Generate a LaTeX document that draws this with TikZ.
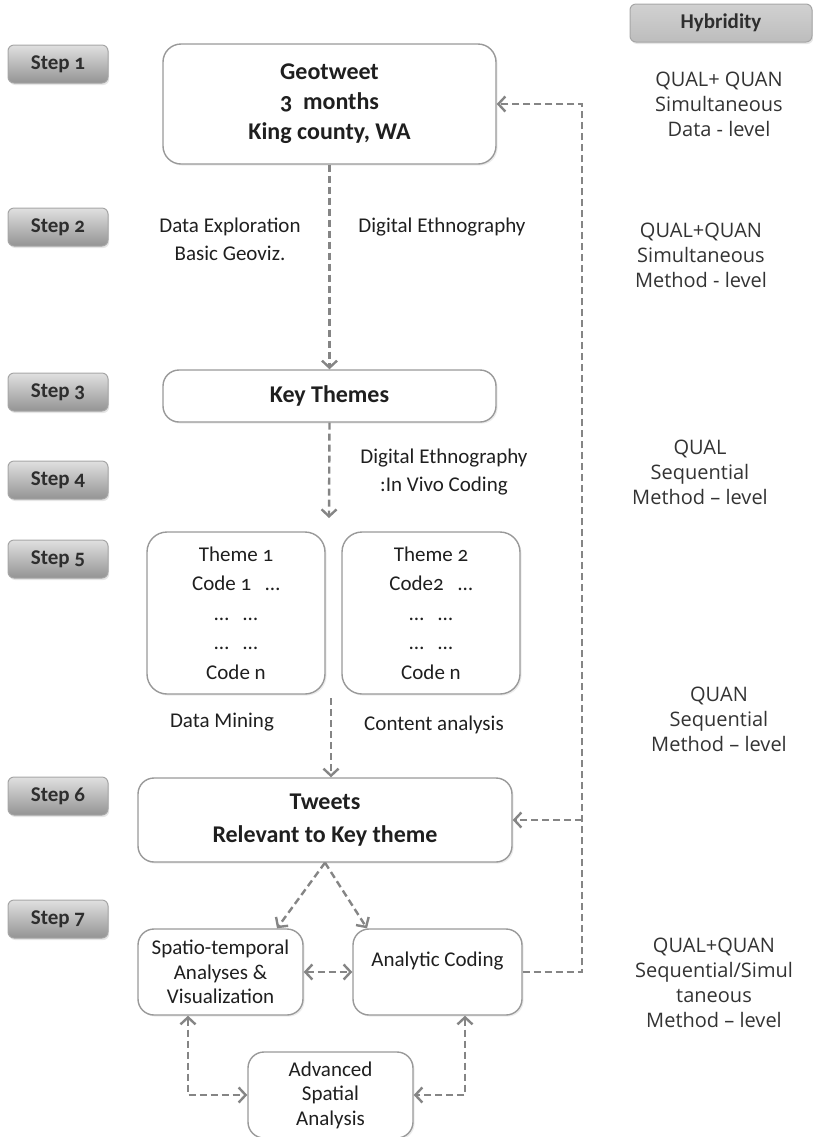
\documentclass[tikz,border=0pt]{standalone}
\usepackage{fontspec}
\setmainfont{Carlito}[Numbers=OldStyle]
\newfontfamily\hybfont{Open Sans}
\usetikzlibrary{arrows.meta,shadows}

\begin{document}
\begin{tikzpicture}[x=0.5pt, y=-0.5pt,
    >={Straight Barb[length=3.5pt,width=7.5pt]},
    every node/.style={text=black!88},
    box/.style={draw=black!40, line width=0.7pt, fill=white, rounded corners=8pt,
        align=center, drop shadow={opacity=0.15,shadow xshift=0.8pt,shadow yshift=-0.8pt}},
    stepbox/.style={draw=black!35, line width=0.5pt, rounded corners=3pt,
        top color=black!12, bottom color=black!42, minimum width=50pt, minimum height=19pt,
        font=\fontsize{10.5}{12}\selectfont\bfseries, text=black!82,
        drop shadow={opacity=0.2,shadow xshift=0.6pt,shadow yshift=-1pt}},
    hybtext/.style={align=center, font=\hybfont\fontsize{10}{12.5}\selectfont, text=black!80},
    lbl/.style={align=center, font=\fontsize{10.5}{14}\selectfont},
    flow/.style={draw=black!48, line width=1.2pt, dash pattern=on 3.5pt off 2pt, ->}]

    \useasboundingbox (0,0) rectangle (813,1137);

    % Steps
    \foreach \n/\y in {1/64, 2/227, 3/392, 4/480, 5/559, 6/796, 7/919} {
        \node[stepbox] (step\n) at (58,\y) {Step \n};
    }

    % Hybridity column
    \node[stepbox, minimum width=91pt, top color=black!18, bottom color=black!26] (hyb) at (721,23) {Hybridity};
    \node[hybtext] (hyb1) at (719,104) {QUAL+ QUAN\\Simultaneous\\Data - level};
    \node[hybtext] (hyb2) at (701,255) {QUAL+QUAN\\Simultaneous\\Method - level};
    \node[hybtext] (hyb3) at (700,472) {QUAL\\Sequential\\Method – level};
    \node[hybtext] (hyb4) at (719,719) {QUAN\\Sequential\\Method – level};
    \node[hybtext] (hyb5) at (714,983) {QUAL+QUAN\\Sequential/Simul\\taneous\\Method – level};

    % Main boxes
    \node[box, rounded corners=9pt, minimum width=166.5pt, minimum height=60pt,
        font=\fontsize{12}{15}\selectfont\bfseries] (geo) at (329.5,104) {Geotweet\\3\ \ months\\King county, WA};
    \node[box, minimum width=166.5pt, minimum height=26pt,
        font=\fontsize{12}{15}\selectfont\bfseries] (key) at (329.5,396) {Key Themes};
    \node[box, rounded corners=10pt, minimum width=89pt, minimum height=81pt,
        font=\fontsize{10.5}{14.75}\selectfont] (theme1) at (236,613) {Theme 1\\Code 1\ \ \ …\\…\ \ \ …\\…\ \ \ …\\Code n};
    \node[box, rounded corners=10pt, minimum width=89pt, minimum height=81pt,
        font=\fontsize{10.5}{14.75}\selectfont] (theme2) at (431,613) {Theme 2\\Code2\ \ \ …\\…\ \ \ …\\…\ \ \ …\\Code n};
    \node[box, minimum width=187pt, minimum height=42pt,
        font=\fontsize{12}{16.5}\selectfont\bfseries] (tweets) at (325,820) {Tweets\\Relevant to Key theme};
    \node[box, minimum width=82.5pt, minimum height=43pt,
        font=\fontsize{10.5}{12.25}\selectfont] (spatio) at (220.5,972) {Spatio-temporal\\Analyses \&\\Visualization};
    \node[box, minimum width=84.5pt, minimum height=43pt,
        font=\fontsize{10.5}{12.25}\selectfont] (analytic) at (437.5,972) {Analytic Coding\\[1pt]};
    \node[box, minimum width=82.5pt, minimum height=43pt,
        font=\fontsize{10.5}{12.25}\selectfont] (adv) at (330.5,1095) {Advanced\\Spatial\\Analysis};

    % Labels beside the flow
    \node[lbl] (explo) at (230,239) {Data Exploration\\Basic Geoviz.};
    \node[lbl] (ethno) at (442,227) {Digital Ethnography};
    \node[lbl] (vivo) at (444,472) {Digital Ethnography\\:In Vivo Coding};
    \node[lbl] (mining) at (222,722) {Data Mining};
    \node[lbl] (content) at (434,725) {Content analysis};

    % Flow
    \coordinate (gaptop) at (329,518);
    \coordinate (gapbot) at (331,698);
    \coordinate (fb) at (582,0);
    \draw[flow] (geo.south) -- (key.north);
    \draw[flow] (key.south) -- (gaptop);
    \draw[flow] (gapbot) -- (tweets.north -| gapbot);
    \draw[flow] (tweets.south) -- ([xshift=28.25pt]spatio.north);
    \draw[flow] (tweets.south) -- ([xshift=-35.25pt]analytic.north);
    \draw[flow, <->] (spatio.east) -- (analytic.west);
    \draw[flow, <->] ([xshift=-16.25pt]spatio.south) |- (adv.west);
    \draw[flow, <->] ([xshift=13.75pt]analytic.south) |- (adv.east);
    \draw[flow] (analytic.east) -- (analytic.east -| fb) -- (geo.east -| fb) -- (geo.east);
    \draw[flow] (tweets.east -| fb) -- (tweets.east);
\end{tikzpicture}
\end{document}
